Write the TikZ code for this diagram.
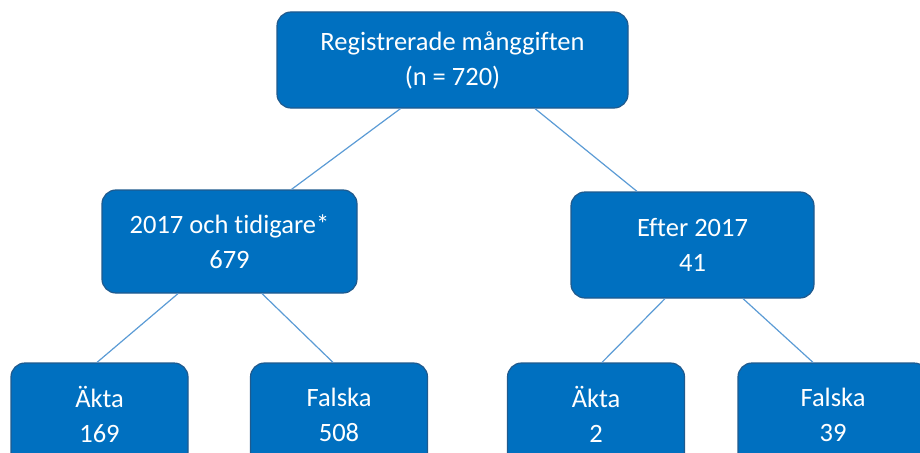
\documentclass[tikz,border=0pt]{standalone}
\usepackage{fontspec}
\setmainfont{Carlito}[Ligatures=NoCommon]
\usepackage{tikz}

\definecolor{boxblue}{HTML}{0070C0}
\definecolor{boxedge}{HTML}{1F5A8E}
\definecolor{linkblue}{HTML}{5B9BD5}

\tikzset{
  box/.style={draw=boxedge, line width=1.2pt, fill=boxblue, rounded corners=14pt,
    text=white, align=center, inner sep=0pt,
    font=\fontsize{26.5}{35}\selectfont},
  link/.style={draw=linkblue, line width=1.2pt}
}

\begin{document}
\begin{tikzpicture}[x=1pt, y=-1pt]
\useasboundingbox (0, 0) rectangle (920, 452);
\clip (0, 0) rectangle (920, 452);

\node[box, minimum width=351pt, minimum height=96pt] (top) at (452.5, 60) {Registrerade månggiften\\(n = 720)};

\node[box, minimum width=255pt, minimum height=103pt] (early) at (229.5, 241.5) {2017 och tidigare*\\679};
\node[box, minimum width=243pt, minimum height=106pt] (late) at (692.5, 245) {Efter 2017\\41};

\node[box, minimum width=177pt, minimum height=103pt] (earlyreal) at (99.5, 414.5) {Äkta\\169};
\node[box, minimum width=177pt, minimum height=103pt] (earlyfake) at (339, 414.5) {Falska\\508};
\node[box, minimum width=177pt, minimum height=103pt] (latereal) at (596, 414.5) {Äkta\\2};
\node[box, minimum width=190pt, minimum height=103pt] (latefake) at (833, 414.5) {Falska\\39};

\draw[link] ([xshift=-52pt]top.south) -- ([xshift=62pt]early.north);
\draw[link] ([xshift=82.5pt]top.south) -- ([xshift=-55.5pt]late.north);

\draw[link] ([xshift=-51.5pt]early.south) -- ([xshift=-2.5pt]earlyreal.north);
\draw[link] ([xshift=32.5pt]early.south) -- ([xshift=-6pt]earlyfake.north);
\draw[link] ([xshift=-27.5pt]late.south) -- ([xshift=6pt]latereal.north);
\draw[link] ([xshift=50.5pt]late.south) -- ([xshift=-20pt]latefake.north);
\end{tikzpicture}
\end{document}
